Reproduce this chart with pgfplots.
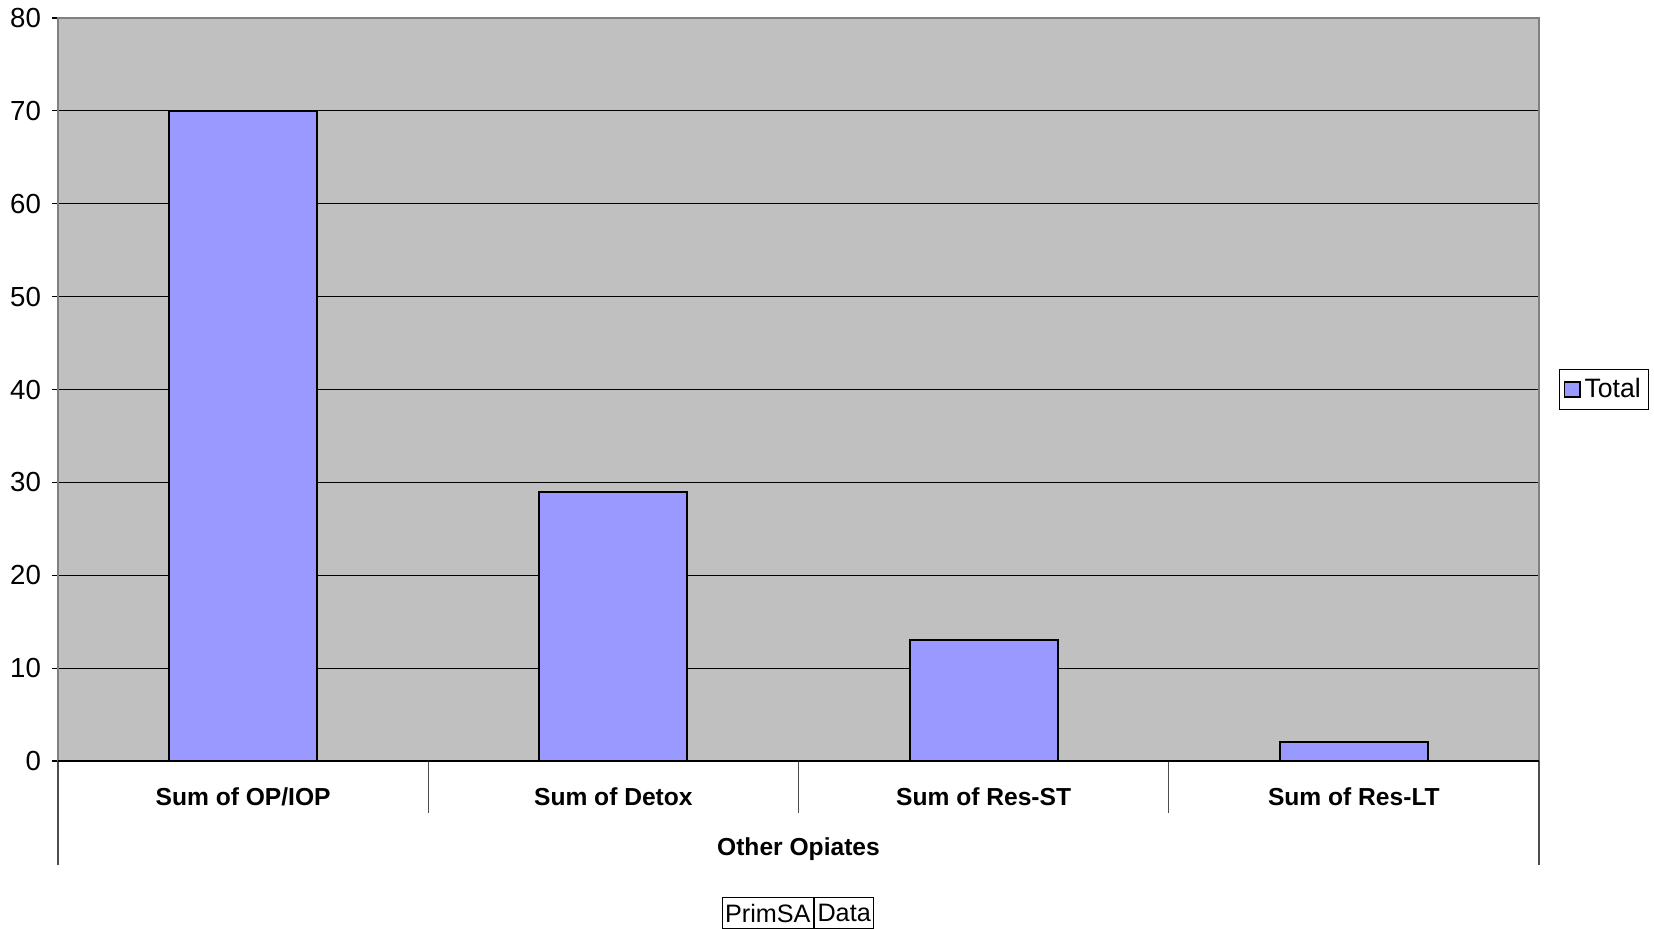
\documentclass[border=0pt]{standalone}
\usepackage{pgfplots}
\pgfplotsset{compat=1.18}
\usepackage{fontspec}
\setmainfont{Liberation Sans}
\definecolor{barblue}{HTML}{9999FF}
\definecolor{bggray}{HTML}{C0C0C0}
\definecolor{framegray}{HTML}{808080}
\begin{document}
\begin{tikzpicture}[x=1pt,y=1pt]
\useasboundingbox (-29,-83.5) rectangle (798,380.5);
\begin{axis}[
  at={(0,0)}, anchor=south west,
  width=740.5pt, height=371.5pt, scale only axis,
  xmin=-0.5, xmax=3.5, ymin=0, ymax=80,
  ytick={0,10,...,80},
  xtick={0,1,2,3},
  xticklabels={Sum of OP/IOP, Sum of Detox, Sum of Res-ST, Sum of Res-LT},
  major x tick style={draw=none},
  ytick pos=left, tick align=outside, major tick length=3pt,
  ytick style={black, line width=0.6pt},
  ymajorgrids, grid style={black, line width=0.6pt},
  axis background/.style={fill=bggray},
  axis line style={draw=framegray, line width=0.9pt},
  yticklabel style={font=\fontsize{13.8}{16}\selectfont, /pgf/number format/assume math mode=true, xshift=-2pt},
  xticklabel style={font=\fontsize{12.3}{14}\selectfont\bfseries, anchor=base, yshift=-19.3pt},
  xlabel={Other Opiates},
  xlabel style={font=\fontsize{12.3}{14}\selectfont\bfseries, at={(rel axis cs:0.5,0)}, anchor=base, yshift=-47pt},
  ybar, bar width=0.4,
  clip=false,
  legend style={at={(1,0.5)}, anchor=west, xshift=10pt, draw=black, line width=0.5pt,
    font=\fontsize{13.3}{15}\selectfont, inner xsep=2pt, inner ysep=2.5pt},
  legend image code/.code={\draw[fill=barblue,draw=black,line width=0.9pt] (0pt,-3.8pt) rectangle (7.6pt,3.8pt);},
]
\addplot[fill=barblue, draw=black, line width=1pt] coordinates {(0,70) (1,29) (2,13) (3,2)};
\addlegendentry{Total}
\draw[framegray!60!black, line width=0.6pt] (axis cs:0.5,0) -- ([yshift=-26pt]axis cs:0.5,0);
\draw[framegray!60!black, line width=0.6pt] (axis cs:1.5,0) -- ([yshift=-26pt]axis cs:1.5,0);
\draw[framegray!60!black, line width=0.6pt] (axis cs:2.5,0) -- ([yshift=-26pt]axis cs:2.5,0);
\draw[framegray!60!black, line width=0.6pt] (axis cs:-0.5,0) -- ([yshift=-52pt]axis cs:-0.5,0);
\draw[framegray!60!black, line width=0.6pt] (axis cs:3.5,0) -- ([yshift=-52pt]axis cs:3.5,0);
\draw[black, line width=0.9pt] (axis cs:-0.5,0) -- (axis cs:3.5,0);
\node[draw=black, line width=0.5pt, anchor=east, minimum height=14.5pt, inner xsep=1.5pt, font=\fontsize{12.6}{14}\selectfont] at ([yshift=-76pt]rel axis cs:0.5105,0) {PrimSA};
\node[draw=black, line width=0.5pt, anchor=west, minimum height=14.5pt, inner xsep=1.5pt, font=\fontsize{12.6}{14}\selectfont] at ([yshift=-76pt]rel axis cs:0.5105,0) {Data};
\end{axis}
\end{tikzpicture}
\end{document}
